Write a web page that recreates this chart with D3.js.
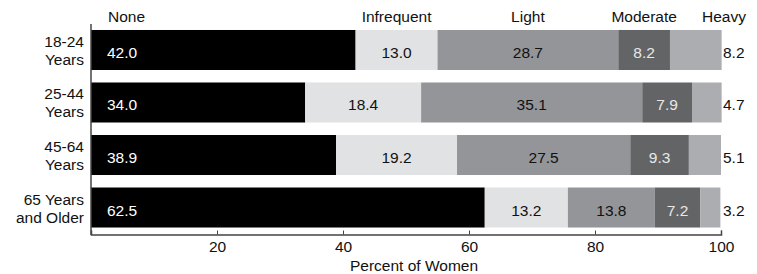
<!DOCTYPE html>
<html>
<head>
<meta charset="utf-8">
<script src="https://cdn.jsdelivr.net/npm/d3@7"></script>
<style>
  body { margin: 0; background: #fff; }
  text { font-family: "Liberation Sans", Arial, sans-serif; font-size: 15.5px; }
</style>
</head>
<body>
<div id="chart"></div>
<script>
// age groups (two-line labels) and drinking levels
var ageGroups = [["18-24", "Years"], ["25-44", "Years"], ["45-64", "Years"], ["65 Years", "and Older"]];
var levels = ["None", "Infrequent", "Light", "Moderate", "Heavy"];

// percent of women per level, one array per level
var none       = [42.0, 34.0, 38.9, 62.5];
var infrequent = [13.0, 18.4, 19.2, 13.2];
var light      = [28.7, 35.1, 27.5, 13.8];
var moderate   = [8.2, 7.9, 9.3, 7.2];
var heavy      = [8.2, 4.7, 5.1, 3.2];

var tickValues = [20, 40, 60, 80, 100];

var fills = ["#000000", "#e1e2e4", "#939598", "#636466", "#acadb0"];
var labelColors = ["#ffffff", "#111111", "#111111", "#e8e8e8", "#111111"];

var width = 757, height = 274;
var margin = {left: 91, right: 36, top: 24, bottom: 40};

var svg = d3.select("#chart").append("svg")
    .attr("width", width)
    .attr("height", height);

// build stacked table
var rows = ageGroups.map(function(a, i) {
    return {age: a.join(" "), lines: a, None: none[i], Infrequent: infrequent[i],
            Light: light[i], Moderate: moderate[i], Heavy: heavy[i]};
});
var series = d3.stack().keys(levels)(rows);

var x = d3.scaleLinear()
    .domain([0, 100])
    .range([margin.left, margin.left + 630]);

var y = d3.scaleBand()
    .domain(rows.map(function(d) { return d.age; }))
    .range([margin.top, height - margin.bottom - 0.5])
    .paddingInner(0.238)
    .paddingOuter(0.114);

// bars
var groups = svg.append("g").selectAll("g")
    .data(series)
    .enter().append("g")
    .attr("fill", function(d, i) { return fills[i]; });

groups.selectAll("rect")
    .data(function(d) { return d; })
    .enter().append("rect")
    .attr("x", function(d) { return x(d[0]); })
    .attr("y", function(d) { return y(d.data.age); })
    .attr("width", function(d) { return x(d[1]) - x(d[0]); })
    .attr("height", y.bandwidth());

// value labels
series.forEach(function(s, k) {
    svg.append("g").selectAll("text")
        .data(s)
        .enter().append("text")
        .attr("x", function(d) {
            if (k == 0) return x(d[0]) + 16;
            if (k == 4) return x(100) + 2;
            return (x(d[0]) + x(d[1])) / 2;
        })
        .attr("y", function(d) { return y(d.data.age) + y.bandwidth() / 2 + 8; })
        .attr("text-anchor", k == 0 || k == 4 ? "start" : "middle")
        .attr("fill", labelColors[k])
        .text(function(d) { return d.data[s.key].toFixed(1); });
});

// level headers, placed over the first row
var first = series.map(function(s) { return s[0]; });
svg.append("g").selectAll("text")
    .data(levels)
    .enter().append("text")
    .attr("x", function(d, k) {
        if (k == 0) return x(0) + 17;
        if (k == 4) return x(100) + 3;
        return (x(first[k][0]) + x(first[k][1])) / 2;
    })
    .attr("y", 22)
    .attr("text-anchor", function(d, k) { return k == 0 ? "start" : "middle"; })
    .attr("fill", "#111")
    .text(function(d) { return d; });

// age labels
var yl = svg.append("g").selectAll("text")
    .data(rows)
    .enter().append("text")
    .attr("x", margin.left - 7)
    .attr("y", function(d) { return y(d.age) + y.bandwidth() / 2; })
    .attr("text-anchor", "end")
    .attr("fill", "#111");
yl.append("tspan")
    .attr("x", margin.left - 7)
    .attr("dy", -3)
    .text(function(d) { return d.lines[0]; });
yl.append("tspan")
    .attr("x", margin.left - 7)
    .attr("dy", 18)
    .text(function(d) { return d.lines[1]; });

// y axis line
svg.append("line")
    .attr("x1", x(0)).attr("x2", x(0))
    .attr("y1", margin.top).attr("y2", height - margin.bottom + 1)
    .attr("stroke", "#444").attr("stroke-width", 1.5);

// x axis
var xAxis = svg.append("g")
    .attr("transform", "translate(0," + (height - margin.bottom + 0.5) + ")")
    .call(d3.axisBottom(x).tickValues([0].concat(tickValues)).tickSize(-4).tickPadding(6)
        .tickFormat(function(d) { return d == 0 ? "" : d; }));
xAxis.select(".domain").attr("stroke", "#444").attr("stroke-width", 1.5);
xAxis.selectAll(".tick line").attr("stroke", "#444");
xAxis.selectAll(".tick text")
    .attr("fill", "#111")
    .style("font-size", "15.5px")
    .style("font-family", "'Liberation Sans', Arial, sans-serif");

svg.append("text")
    .attr("x", (x(0) + x(100)) / 2 + 8)
    .attr("y", 271)
    .attr("text-anchor", "middle")
    .attr("fill", "#111")
    .text("Percent of Women");
</script>
</body>
</html>
